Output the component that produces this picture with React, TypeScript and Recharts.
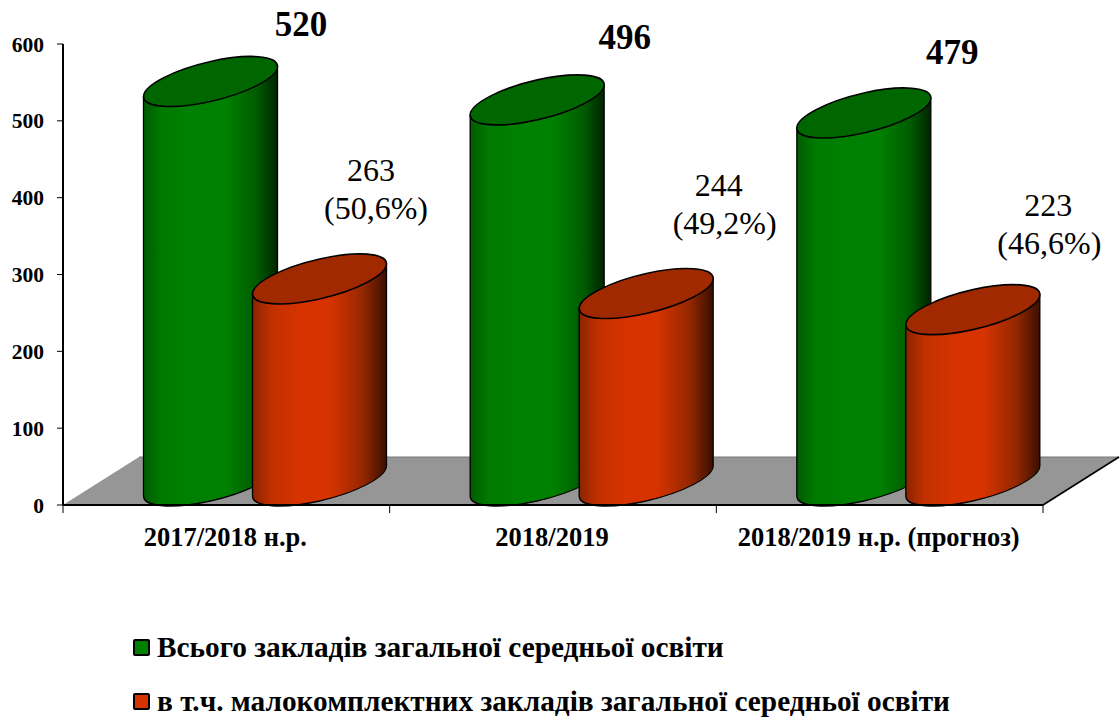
import React from "react";
import {
    BarChart,
    Bar,
    XAxis,
    YAxis,
    Legend,
    LabelList,
    ReferenceArea,
} from "recharts";

const categories = ["2017/2018 н.р.", "2018/2019", "2018/2019 н.р. (прогноз)"];
const totalSchools = [520, 496, 479];
const smallSchools = [263, 244, 223];
const smallShares = ["50,6%", "49,2%", "46,6%"];
const yTicks = [0, 100, 200, 300, 400, 500, 600];
const TOTAL_NAME = "Всього закладів загальної середньої освіти";
const SMALL_NAME = "в т.ч. малокомплектних закладів загальної середньої освіти";

const chartData = categories.map((name, i) => ({
    name,
    total: totalSchools[i],
    small: smallSchools[i],
    share: smallShares[i],
}));

const SERIF = "'Liberation Serif', 'Times New Roman', serif";
const GREEN = "#008000";
const RED = "#d63300";

// the floor is 76px wide and 48px deep, the cylinders stand in the middle of it
const DEPTH_X = 76;
const DEPTH_Y = 48;
const SHEAR = 15 / 67;
const ELLIPSE_RY = 20;

// hand placed labels, same as in the original slide
const totalLabelShift = [91, 88, 89];
const totalLabelLift = [45, 51, 49];
const smallLabelShift = [57, 79, 77];
const smallValueShift = [-5, -6, -1];
const smallLabelLift = [98, 98, 94];

const Cylinder = (props: any) => {
    const { x, y, width, height, topFill, bodyId } = props;
    const a = width / 2;
    const cx = x + a + DEPTH_X / 2 + 0.5;
    const cy = y - DEPTH_Y / 2;
    const matrix = `matrix(1 ${-SHEAR} 0 1 ${cx} ${cy})`;
    return (
        <g transform={matrix}>
            <path
                d={`M ${-a} 0 L ${-a} ${height} A ${a} ${ELLIPSE_RY} 0 0 0 ${a} ${height} L ${a} 0 Z`}
                fill={`url(#${bodyId})`}
                stroke="#000"
                strokeWidth={1.3}
            />
            <ellipse rx={a} ry={ELLIPSE_RY} fill={topFill} stroke="#000" strokeWidth={1.6} />
        </g>
    );
};

const Floor = (props: any) => {
    const { x, y, width, height } = props;
    const bottom = y + height;
    const right = x + width;
    const back = bottom - DEPTH_Y;
    return (
        <g>
            <polygon
                points={`${x},${bottom} ${x + DEPTH_X},${back} ${right + DEPTH_X},${back} ${right},${bottom}`}
                fill="#969696"
            />
            <line x1={x + DEPTH_X} y1={back} x2={right + DEPTH_X} y2={back} stroke="#777" strokeWidth={1} />
            <line x1={right} y1={bottom} x2={right + DEPTH_X} y2={back} stroke="#000" strokeWidth={1.6} />
        </g>
    );
};

const CategoryTick = (props: any) => {
    const { x, y, payload, index } = props;
    const band = 980 / categories.length;
    return (
        <g>
            {index === 0 && <line x1={x - band / 2} x2={x - band / 2} y1={y - 8} y2={y} stroke="#000" strokeWidth={1} />}
            <line x1={x + band / 2} x2={x + band / 2} y1={y - 8} y2={y} stroke="#000" strokeWidth={1} />
            <text x={x - 1} y={y + 33} textAnchor="middle" fontFamily={SERIF} fontSize={26.5} fontWeight="bold" fill="#000">
                {payload.value}
            </text>
        </g>
    );
};

const TotalLabel = (props: any) => {
    const { x, y, width, value, index } = props;
    return (
        <text
            x={x + width / 2 + DEPTH_X / 2 + totalLabelShift[index]}
            y={y - DEPTH_Y / 2 - totalLabelLift[index]}
            textAnchor="middle"
            fontFamily={SERIF}
            fontSize={35}
            fontWeight="bold"
            fill="#000"
        >
            {value}
        </text>
    );
};

const SmallLabel = (props: any) => {
    const { x, y, width, value, index } = props;
    const cx = x + width / 2 + DEPTH_X / 2 + smallLabelShift[index];
    const top = y - DEPTH_Y / 2 - smallLabelLift[index];
    return (
        <text textAnchor="middle" fontFamily={SERIF} fontSize={32} fill="#000">
            <tspan x={cx + smallValueShift[index]} y={top}>{value}</tspan>
            <tspan x={cx} y={top + 38}>({smallShares[index]})</tspan>
        </text>
    );
};

const LegendBlock = ({ payload }: any) => (
    <div style={{ fontFamily: SERIF, fontWeight: "bold", fontSize: 29.3, color: "#000" }}>
        {(payload || []).map((item: any) => (
            <div key={item.value} style={{ display: "flex", alignItems: "center", height: 54, whiteSpace: "nowrap" }}>
                <span
                    style={{
                        display: "inline-block",
                        width: 13,
                        height: 13,
                        marginRight: 7,
                        background: item.color,
                        border: "2px solid #000",
                        borderRadius: 2,
                    }}
                />
                {item.value}
            </div>
        ))}
    </div>
);

export default function App() {
    return (
        <div style={{ position: "absolute", left: 0, top: 0, width: 1120, height: 720, background: "#fff" }}>
            <BarChart
                width={1120}
                height={720}
                data={chartData}
                margin={{ top: 44, right: 77, bottom: 175, left: 0 }}
                barSize={134}
                barGap={-25}
            >
                <defs>
                    <linearGradient id="greenBody" x1="0" y1="0" x2="1" y2="0">
                        <stop offset="0" stopColor="#005c00" />
                        <stop offset="0.14" stopColor="#007a00" />
                        <stop offset="0.35" stopColor={GREEN} />
                        <stop offset="0.62" stopColor={GREEN} />
                        <stop offset="0.85" stopColor="#005a00" />
                        <stop offset="1" stopColor="#002400" />
                    </linearGradient>
                    <linearGradient id="redBody" x1="0" y1="0" x2="1" y2="0">
                        <stop offset="0" stopColor="#8a2400" />
                        <stop offset="0.14" stopColor="#c23000" />
                        <stop offset="0.35" stopColor={RED} />
                        <stop offset="0.58" stopColor={RED} />
                        <stop offset="0.82" stopColor="#962800" />
                        <stop offset="1" stopColor="#3a0f00" />
                    </linearGradient>
                </defs>
                <ReferenceArea y1={0} y2={600} ifOverflow="visible" shape={<Floor />} />
                <XAxis
                    dataKey="name"
                    axisLine={{ stroke: "#000", strokeWidth: 2 }}
                    tickLine={false}
                    tick={<CategoryTick />}
                    interval={0}
                    height={40}
                />
                <YAxis
                    domain={[0, 600]}
                    ticks={yTicks}
                    width={63}
                    axisLine={{ stroke: "#000", strokeWidth: 2 }}
                    tickLine={{ stroke: "#000", strokeWidth: 1 }}
                    tickSize={6}
                    tickMargin={13}
                    tick={{ fontFamily: SERIF, fontSize: 21.5, fontWeight: "bold", fill: "#000" }}
                />
                <Bar
                    dataKey="total"
                    name={TOTAL_NAME}
                    fill={GREEN}
                    isAnimationActive={false}
                    shape={<Cylinder bodyId="greenBody" topFill="#006600" />}
                >
                    <LabelList dataKey="total" content={<TotalLabel />} />
                </Bar>
                <Bar
                    dataKey="small"
                    name={SMALL_NAME}
                    fill={RED}
                    isAnimationActive={false}
                    shape={<Cylinder bodyId="redBody" topFill="#a02900" />}
                >
                    <LabelList dataKey="small" content={<SmallLabel />} />
                </Bar>
                <Legend
                    layout="horizontal"
                    verticalAlign="middle"
                    content={<LegendBlock />}
                    wrapperStyle={{ position: "absolute", left: 133, top: 620, width: 950 }}
                />
            </BarChart>
        </div>
    );
}
